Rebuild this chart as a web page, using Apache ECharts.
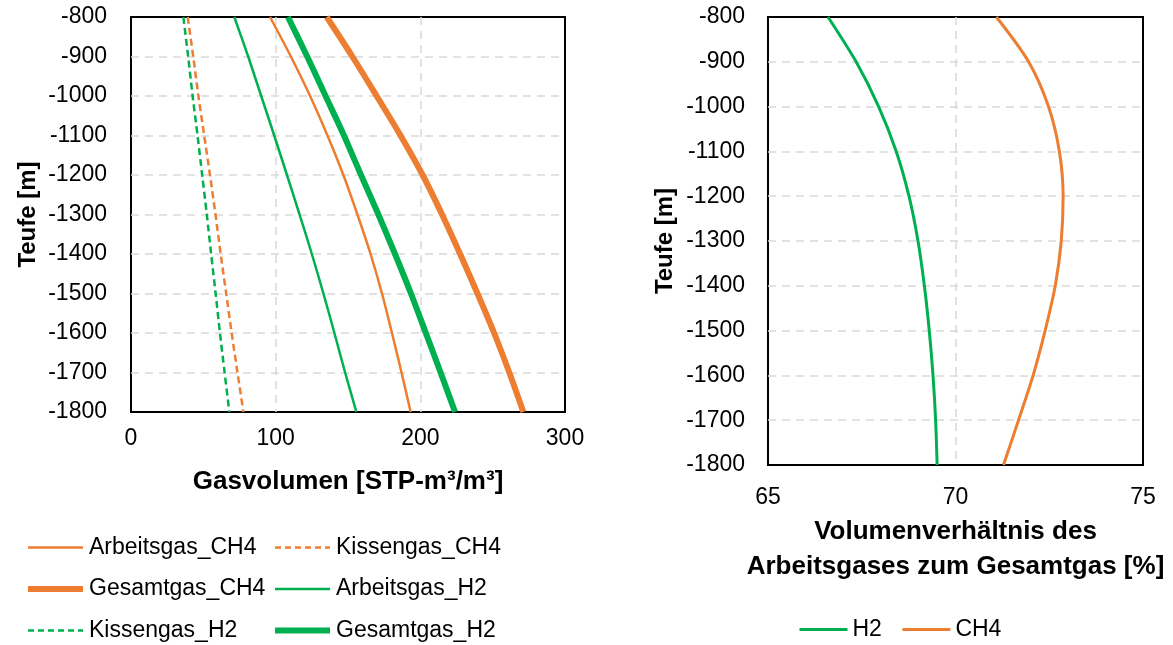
<!DOCTYPE html>
<html>
<head>
<meta charset="utf-8">
<title>Gasvolumen und Volumenverhältnis über Teufe</title>
<script src="https://cdn.jsdelivr.net/npm/echarts@6/dist/echarts.min.js"></script>
<style>
  html, body { margin: 0; padding: 0; background: #fff; }
  #chart { width: 1173px; height: 645px; }
</style>
</head>
<body>
<div id="chart"></div>
<script>
// Teufe [m] – shared depth steps for both panels
const depths = [-800, -900, -1000, -1100, -1200, -1300, -1400, -1500, -1600, -1700, -1800];

// Gasvolumen [STP-m³/m³] per depth
const arbeitsgasCH4 = [96.1, 110.5, 123.8, 135.8, 146.8, 156.5, 165.6, 173.5, 180.4, 187.0, 193.3];
const kissengasCH4  = [39.2, 43.0, 46.6, 50.6, 54.6, 58.4, 62.0, 65.8, 69.6, 73.6, 77.7];
const gesamtgasCH4  = [135.3, 153.0, 169.8, 186.3, 201.6, 215.0, 227.5, 239.5, 251.0, 261.5, 271.2];
const arbeitsgasH2  = [71.4, 81.0, 90.0, 99.0, 107.8, 116.5, 125.0, 133.0, 140.6, 148.0, 155.8];
const kissengasH2   = [36.2, 39.5, 42.6, 46.0, 49.2, 52.4, 55.4, 58.5, 61.5, 64.7, 68.0];
const gesamtgasH2   = [108.5, 121.8, 134.5, 147.2, 159.0, 171.0, 182.5, 193.5, 203.8, 214.0, 224.0];

// Volumenverhältnis Arbeitsgas / Gesamtgas [%] per depth
const verhaeltnisH2  = [66.60, 67.35, 67.95, 68.42, 68.76, 69.00, 69.17, 69.30, 69.40, 69.47, 69.51];
const verhaeltnisCH4 = [71.09, 71.95, 72.48, 72.77, 72.87, 72.82, 72.66, 72.39, 72.07, 71.68, 71.28];

// axis tick settings
const volumeTicks = { min: 0, max: 300, interval: 100 };
const ratioTicks  = { min: 65, max: 75, interval: 5 };
const depthTicks  = { min: -1800, max: -800, interval: 100 };

const ORANGE = '#ED7D31';
const GREEN  = '#00B050';
const FONT   = '"Liberation Sans", Arial, sans-serif';

const pairs = (xs) => xs.map((x, i) => [x, depths[i]]);
const plain = (v) => String(v);

const gridLine = {
  show: true, showMinLine: false, showMaxLine: false,
  lineStyle: { color: '#d9d9d9', width: 1.5, type: [8, 6] }
};
const tickLabel = { color: '#000', fontSize: 23, fontFamily: FONT };
const titleStyle = { color: '#000', fontSize: 24, fontWeight: 'bold', fontFamily: FONT };

function lineSeries(name, values, color, width, dashed, axisIndex) {
  return {
    name: name,
    type: 'line',
    xAxisIndex: axisIndex,
    yAxisIndex: axisIndex,
    data: pairs(values),
    symbol: 'none',
    smooth: 0.3,
    lineStyle: { color: color, width: width, type: dashed ? [7, 4] : 'solid' },
    itemStyle: { color: color },
    emphasis: { disabled: true },
    silent: true
  };
}

// legend entry with its own line look
function entry(name, width, dashed) {
  return { name: name, lineStyle: { width: width, type: dashed ? [6, 4] : 'solid' } };
}

const legendBase = {
  orient: 'vertical', padding: 0, itemWidth: 55, itemHeight: 14, itemGap: 18.5,
  itemStyle: { opacity: 0 },
  textStyle: { ...tickLabel, padding: [0, 0, 0, 1] }
};

const chart = echarts.init(document.getElementById('chart'), null, { renderer: 'canvas' });

chart.setOption({
  animation: false,
  backgroundColor: '#fff',
  textStyle: { fontFamily: FONT },
  grid: [
    { left: 131, top: 17, width: 434, height: 395, show: true, borderColor: '#000', borderWidth: 2, borderType: 'solid', backgroundColor: 'transparent' },
    { left: 768, top: 17, width: 375, height: 448, show: true, borderColor: '#000', borderWidth: 2, borderType: 'solid', backgroundColor: 'transparent' }
  ],
  xAxis: [
    {
      gridIndex: 0, type: 'value', ...volumeTicks,
      axisLine: { show: false }, axisTick: { show: false },
      axisLabel: { ...tickLabel, margin: 15, formatter: plain },
      splitLine: gridLine,
      name: 'Gasvolumen [STP-m³/m³]', nameLocation: 'middle', nameGap: 57,
      nameTextStyle: { ...titleStyle, fontSize: 26 }
    },
    {
      gridIndex: 1, type: 'value', ...ratioTicks,
      axisLine: { show: false }, axisTick: { show: false },
      axisLabel: { ...tickLabel, margin: 21, formatter: plain },
      splitLine: gridLine,
      name: 'Volumenverhältnis des\nArbeitsgases zum Gesamtgas [%]', nameLocation: 'middle', nameGap: 49,
      nameTextStyle: { ...titleStyle, fontSize: 26, lineHeight: 35 }
    }
  ],
  yAxis: [
    {
      gridIndex: 0, type: 'value', ...depthTicks,
      axisLine: { show: false }, axisTick: { show: false },
      axisLabel: { ...tickLabel, margin: 24, formatter: plain },
      splitLine: gridLine,
      name: 'Teufe [m]', nameLocation: 'middle', nameGap: 91, nameRotate: 90,
      nameTextStyle: titleStyle
    },
    {
      gridIndex: 1, type: 'value', ...depthTicks,
      axisLine: { show: false }, axisTick: { show: false },
      axisLabel: { ...tickLabel, margin: 23, formatter: plain },
      splitLine: gridLine,
      name: 'Teufe [m]', nameLocation: 'middle', nameGap: 91, nameRotate: 90,
      nameTextStyle: titleStyle
    }
  ],
  legend: [
    {
      ...legendBase, left: 25, top: 536,
      data: [entry('Arbeitsgas_CH4', 2.5, false), entry('Gesamtgas_CH4', 6, false), entry('Kissengas_H2', 2.5, true)]
    },
    {
      ...legendBase, left: 272, top: 536,
      data: [entry('Kissengas_CH4', 2.5, true), entry('Arbeitsgas_H2', 2.5, false), entry('Gesamtgas_H2', 6, false)]
    },
    {
      orient: 'horizontal', padding: 0, left: 798, top: 618, itemWidth: 48, itemHeight: 14, itemGap: 19,
      itemStyle: { opacity: 0 },
      textStyle: tickLabel,
      data: [entry('H2', 3, false), entry('CH4', 3, false)]
    }
  ],
  series: [
    lineSeries('Arbeitsgas_CH4', arbeitsgasCH4, ORANGE, 2.5, false, 0),
    lineSeries('Kissengas_CH4', kissengasCH4, ORANGE, 2.5, true, 0),
    lineSeries('Gesamtgas_CH4', gesamtgasCH4, ORANGE, 6, false, 0),
    lineSeries('Arbeitsgas_H2', arbeitsgasH2, GREEN, 2.5, false, 0),
    lineSeries('Kissengas_H2', kissengasH2, GREEN, 2.5, true, 0),
    lineSeries('Gesamtgas_H2', gesamtgasH2, GREEN, 6, false, 0),
    lineSeries('H2', verhaeltnisH2, GREEN, 3, false, 1),
    lineSeries('CH4', verhaeltnisCH4, ORANGE, 3, false, 1)
  ]
});
</script>
</body>
</html>
